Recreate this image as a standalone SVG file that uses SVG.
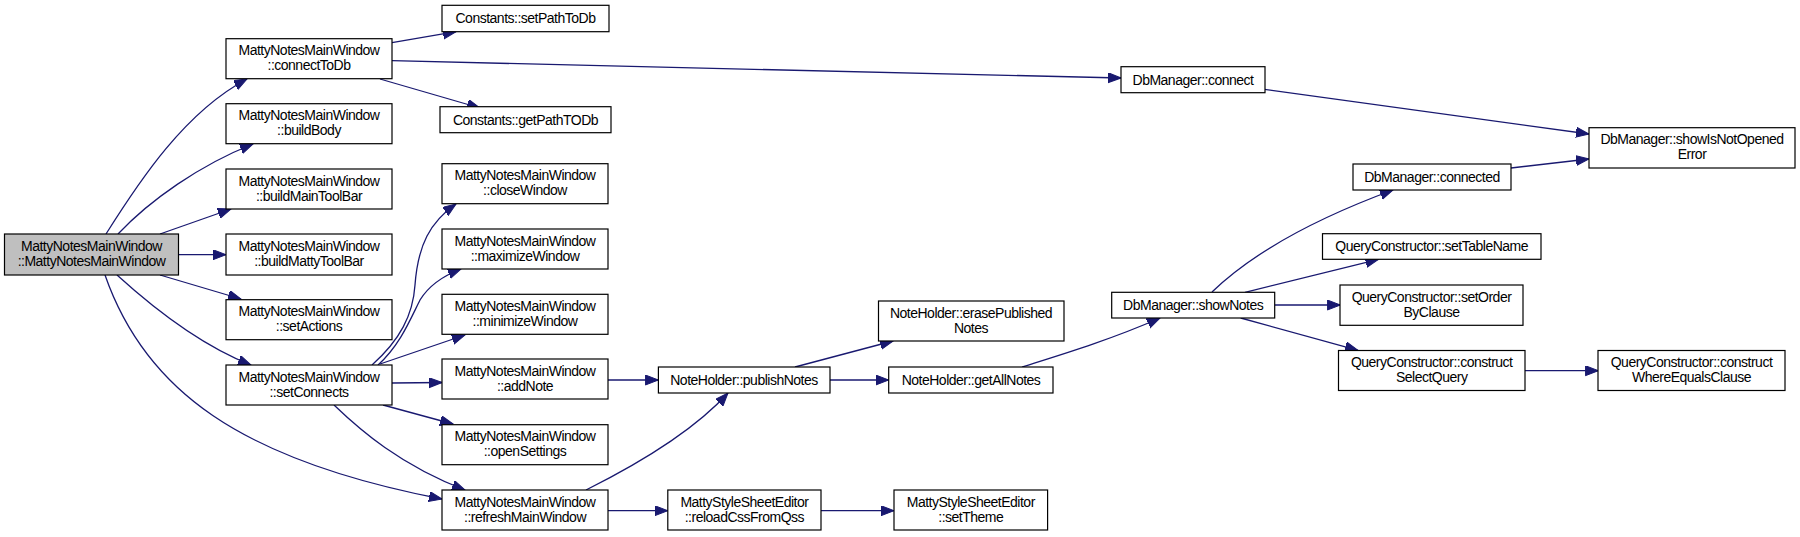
<svg xmlns="http://www.w3.org/2000/svg" width="1800" height="537" viewBox="0 0 1800 537">
<style>
.n rect{fill:#fff;stroke:#000;stroke-width:1.2}
.n.root rect{fill:#bfbfbf}
.n text{font-family:"Liberation Sans",Arial,sans-serif;font-size:14px;letter-spacing:-0.5px;fill:#000;text-anchor:middle}
.e path{fill:none;stroke:#191970;stroke-width:1.3;marker-end:url(#ah)}
</style>
<defs>
<marker id="ah" markerUnits="userSpaceOnUse" markerWidth="14" markerHeight="11" refX="13" refY="5" orient="auto">
<path d="M0,0 L13,5 L0,10 Z" fill="#191970" stroke="#191970" stroke-width="1"/>
</marker>
</defs>
<rect width="1800" height="537" fill="#fff"/>
<g id="edges" class="e">
<path d="M106,234 C140,180 185,112 247,79"/>
<path d="M118,234 C150,200 200,165 253,144"/>
<path d="M160,234 L231,209"/>
<path d="M179,254.7 L226,254.7"/>
<path d="M160,275 L241,299"/>
<path d="M117,275 C150,305 200,345 251,365"/>
<path d="M105,275 C145,390 240,460 442,499"/>
<path d="M392,42.7 L456,31.7"/>
<path d="M392,60.7 L1121,78"/>
<path d="M380,79 L480,108"/>
<path d="M372,365 C400,340 413,315 415,285 C418,245 430,222 456,204"/>
<path d="M378,365 C400,345 410,320 420,300 C428,287 440,277 461,269"/>
<path d="M380,364 L465,335"/>
<path d="M392,383 L442,382.5"/>
<path d="M383,405 L453,424"/>
<path d="M334,405 C360,430 400,465 465,490"/>
<path d="M607.5,380 L658.4,380"/>
<path d="M586,490 C630,468 690,435 728,393"/>
<path d="M607.5,510.7 L667.8,510.7"/>
<path d="M821,510.7 L894,510.7"/>
<path d="M795,367 L893,341"/>
<path d="M830,380 L888.7,380"/>
<path d="M1022,367 C1060,355 1110,340 1160,318"/>
<path d="M1264.6,89.3 L1589,134"/>
<path d="M1511,168 L1589,159"/>
<path d="M1212,292 C1240,265 1290,228 1393,190"/>
<path d="M1245,292.3 L1378.5,259.3"/>
<path d="M1274.7,305 L1340.4,305"/>
<path d="M1240.7,318 L1358,350.3"/>
<path d="M1525,370.7 L1598.4,370.7"/>
</g>
<g id="n_root" class="n root"><rect x="4.5" y="234" width="174" height="41"/><text x="91.5" y="250.5">MattyNotesMainWindow</text><text x="91.5" y="265.5">::MattyNotesMainWindow</text></g>
<g id="n_connectToDb" class="n"><rect x="226" y="38.7" width="166" height="40"/><text x="309" y="55">MattyNotesMainWindow</text><text x="309" y="70">::connectToDb</text></g>
<g id="n_buildBody" class="n"><rect x="226" y="103.7" width="166" height="40"/><text x="309" y="120">MattyNotesMainWindow</text><text x="309" y="135">::buildBody</text></g>
<g id="n_buildMainToolBar" class="n"><rect x="226" y="169" width="166" height="40"/><text x="309" y="185.5">MattyNotesMainWindow</text><text x="309" y="200.5">::buildMainToolBar</text></g>
<g id="n_buildMattyToolBar" class="n"><rect x="226" y="234" width="166" height="41"/><text x="309" y="250.5">MattyNotesMainWindow</text><text x="309" y="265.5">::buildMattyToolBar</text></g>
<g id="n_setActions" class="n"><rect x="226" y="299.7" width="166" height="40"/><text x="309" y="316">MattyNotesMainWindow</text><text x="309" y="331">::setActions</text></g>
<g id="n_setConnects" class="n"><rect x="226" y="365" width="166" height="40"/><text x="309" y="381.5">MattyNotesMainWindow</text><text x="309" y="396.5">::setConnects</text></g>
<g id="n_setPathToDb" class="n"><rect x="442" y="5.3" width="167" height="26.4"/><text x="525.5" y="23">Constants::setPathToDb</text></g>
<g id="n_getPathTODb" class="n"><rect x="440" y="106.7" width="171" height="26"/><text x="525.5" y="124.5">Constants::getPathTODb</text></g>
<g id="n_closeWindow" class="n"><rect x="442" y="163.7" width="166" height="40"/><text x="525" y="180">MattyNotesMainWindow</text><text x="525" y="195">::closeWindow</text></g>
<g id="n_maximizeWindow" class="n"><rect x="442" y="229" width="166" height="40"/><text x="525" y="245.5">MattyNotesMainWindow</text><text x="525" y="260.5">::maximizeWindow</text></g>
<g id="n_minimizeWindow" class="n"><rect x="442" y="294.3" width="166" height="40"/><text x="525" y="310.8">MattyNotesMainWindow</text><text x="525" y="325.8">::minimizeWindow</text></g>
<g id="n_addNote" class="n"><rect x="442" y="359" width="166" height="40"/><text x="525" y="375.5">MattyNotesMainWindow</text><text x="525" y="390.5">::addNote</text></g>
<g id="n_openSettings" class="n"><rect x="442" y="424.7" width="166" height="40"/><text x="525" y="441">MattyNotesMainWindow</text><text x="525" y="456">::openSettings</text></g>
<g id="n_refreshMainWindow" class="n"><rect x="442" y="490" width="166" height="40"/><text x="525" y="506.5">MattyNotesMainWindow</text><text x="525" y="521.5">::refreshMainWindow</text></g>
<g id="n_publishNotes" class="n"><rect x="658.4" y="367" width="171.6" height="26"/><text x="744" y="384.5">NoteHolder::publishNotes</text></g>
<g id="n_erasePublishedNotes" class="n"><rect x="878.5" y="301" width="185.5" height="40"/><text x="971" y="317.5">NoteHolder::erasePublished</text><text x="971" y="332.5">Notes</text></g>
<g id="n_getAllNotes" class="n"><rect x="888.7" y="367" width="164.3" height="26"/><text x="971" y="384.5">NoteHolder::getAllNotes</text></g>
<g id="n_reloadCssFromQss" class="n"><rect x="667.8" y="490" width="153.2" height="40"/><text x="744.4" y="506.5">MattyStyleSheetEditor</text><text x="744.4" y="521.5">::reloadCssFromQss</text></g>
<g id="n_setTheme" class="n"><rect x="894" y="490" width="153.6" height="40"/><text x="970.8" y="506.5">MattyStyleSheetEditor</text><text x="970.8" y="521.5">::setTheme</text></g>
<g id="n_dbConnect" class="n"><rect x="1121" y="66.7" width="144" height="26"/><text x="1193" y="84.5">DbManager::connect</text></g>
<g id="n_showNotes" class="n"><rect x="1111.7" y="292.3" width="163" height="25.7"/><text x="1193.2" y="310">DbManager::showNotes</text></g>
<g id="n_showIsNotOpenedError" class="n"><rect x="1589" y="127.7" width="206" height="40.3"/><text x="1692" y="144">DbManager::showIsNotOpened</text><text x="1692" y="159">Error</text></g>
<g id="n_connected" class="n"><rect x="1353" y="164" width="158" height="26"/><text x="1432" y="181.5">DbManager::connected</text></g>
<g id="n_setTableName" class="n"><rect x="1322.5" y="233.7" width="218.5" height="25.6"/><text x="1431.7" y="251.3">QueryConstructor::setTableName</text></g>
<g id="n_setOrderByClause" class="n"><rect x="1340" y="285" width="183" height="40.3"/><text x="1431.5" y="301.5">QueryConstructor::setOrder</text><text x="1431.5" y="316.5">ByClause</text></g>
<g id="n_constructSelectQuery" class="n"><rect x="1338.5" y="350.5" width="186.5" height="40"/><text x="1431.7" y="367">QueryConstructor::construct</text><text x="1431.7" y="382">SelectQuery</text></g>
<g id="n_constructWhereEqualsClause" class="n"><rect x="1598" y="350.5" width="187" height="40"/><text x="1691.5" y="367">QueryConstructor::construct</text><text x="1691.5" y="382">WhereEqualsClause</text></g>
</svg>
